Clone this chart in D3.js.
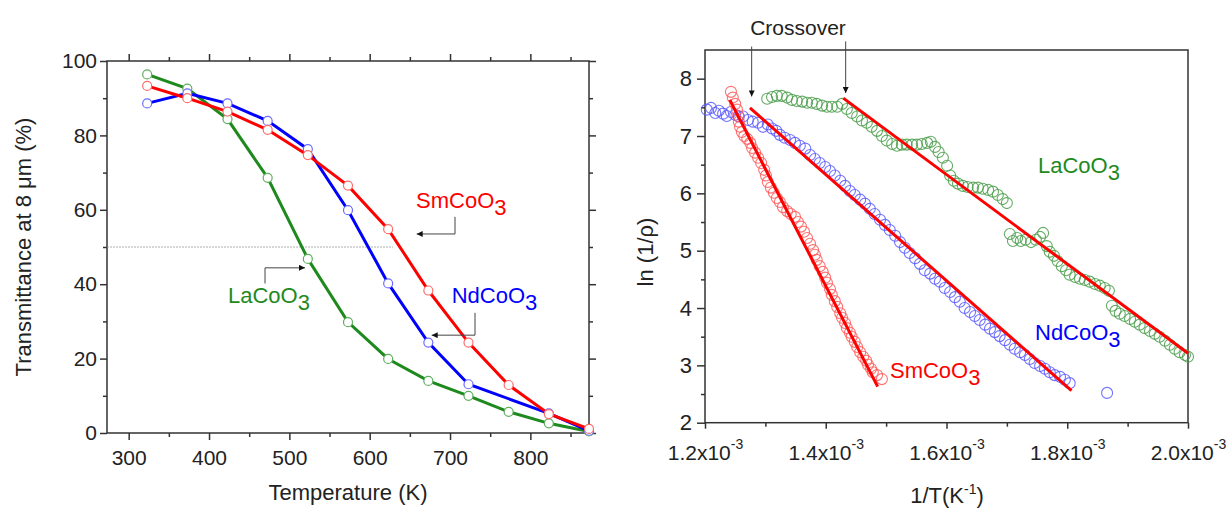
<!DOCTYPE html>
<html><head><meta charset="utf-8">
<script src="https://cdn.jsdelivr.net/npm/d3@7"></script>
<style>
body{margin:0;background:#fff}
svg{display:block}
text{font-family:"Liberation Sans",Arial,Helvetica,sans-serif}
</style>
</head><body>
<svg id="c" width="1229" height="509"></svg>
<script>
// ---------- Left panel data: transmittance at 8 um vs temperature ----------
const temperatureK = [323, 373, 423, 473, 523, 573, 623, 673, 723, 773, 823, 873];
const laTrans = [96.4, 92.6, 84.4, 68.6, 46.8, 29.8, 19.9, 14.0, 10.0, 5.7, 2.6, 0.4];
const smTrans = [93.3, 90.0, 86.4, 81.5, 74.7, 66.5, 54.8, 38.3, 24.3, 12.9, 5.1, 1.1];
const ndTrans = [88.6, 91.3, 88.6, 83.9, 76.3, 59.9, 40.2, 24.3, 13.1, null, 5.3, 0.6];
const leftXTicks = [300, 400, 500, 600, 700, 800];
const leftYTicks = [0, 20, 40, 60, 80, 100];

// ---------- Right panel data: ln(1/rho) vs 1/T (in units of 1e-3 K^-1) ----------
const smInvT = [1.243,1.246,1.250,1.253,1.255,1.256,1.258,1.261,1.265,1.270,1.275,1.278,1.283,1.288,1.293,1.298,1.301,1.304,1.309,1.314,1.319,1.324,1.329,1.336,1.342,1.349,1.354,1.359,1.364,1.369,1.374,1.379,1.382,1.385,1.390,1.395,1.399,1.402,1.407,1.410,1.415,1.419,1.424,1.427,1.432,1.435,1.440,1.443,1.448,1.452,1.457,1.462,1.467,1.470,1.475,1.478,1.485,1.493];
const smLn = [7.77,7.67,7.56,7.46,7.35,7.25,7.16,7.07,7.00,6.95,6.88,6.79,6.71,6.62,6.53,6.41,6.31,6.20,6.10,6.01,5.92,5.85,5.76,5.69,5.64,5.59,5.50,5.42,5.33,5.22,5.12,5.01,4.93,4.84,4.73,4.63,4.53,4.44,4.33,4.23,4.12,4.02,3.91,3.83,3.74,3.65,3.57,3.50,3.41,3.32,3.23,3.15,3.08,3.01,2.94,2.88,2.83,2.76];

const ndInvT = [1.203,1.210,1.217,1.223,1.230,1.236,1.243,1.250,1.256,1.263,1.271,1.279,1.288,1.296,1.304,1.311,1.318,1.324,1.332,1.341,1.349,1.357,1.366,1.374,1.382,1.390,1.399,1.407,1.415,1.424,1.432,1.440,1.448,1.457,1.465,1.473,1.481,1.490,1.498,1.506,1.515,1.523,1.531,1.539,1.548,1.556,1.564,1.573,1.581,1.589,1.597,1.606,1.614,1.622,1.630,1.639,1.647,1.655,1.664,1.672,1.680,1.688,1.697,1.705,1.713,1.722,1.730,1.738,1.746,1.755,1.763,1.771,1.779,1.788,1.796,1.804,1.866];
const ndLn = [7.46,7.49,7.40,7.44,7.39,7.35,7.42,7.37,7.34,7.34,7.28,7.25,7.23,7.16,7.20,7.13,7.09,7.02,6.97,6.93,6.88,6.83,6.78,6.67,6.60,6.53,6.46,6.39,6.31,6.22,6.13,6.04,5.97,5.89,5.82,5.73,5.64,5.54,5.45,5.36,5.26,5.15,5.05,4.96,4.87,4.77,4.66,4.60,4.51,4.46,4.35,4.28,4.19,4.11,4.00,3.93,3.86,3.79,3.71,3.64,3.58,3.51,3.44,3.36,3.29,3.23,3.18,3.11,3.04,2.99,2.94,2.88,2.83,2.80,2.75,2.69,2.52];

const laInvT = [1.303,1.311,1.319,1.327,1.336,1.344,1.352,1.361,1.369,1.377,1.385,1.394,1.402,1.410,1.419,1.427,1.435,1.443,1.452,1.460,1.468,1.476,1.485,1.493,1.501,1.510,1.518,1.526,1.534,1.543,1.551,1.559,1.568,1.574,1.581,1.587,1.594,1.601,1.606,1.612,1.619,1.627,1.635,1.644,1.652,1.660,1.669,1.677,1.685,1.693,1.700,1.705,1.710,1.717,1.723,1.731,1.740,1.748,1.755,1.760,1.766,1.771,1.778,1.784,1.791,1.798,1.804,1.813,1.821,1.829,1.837,1.846,1.854,1.862,1.869,1.874,1.880,1.887,1.895,1.904,1.912,1.920,1.928,1.937,1.945,1.953,1.962,1.970,1.978,1.986,1.995,2.000];
const laLn = [7.65,7.68,7.70,7.70,7.67,7.63,7.61,7.60,7.58,7.58,7.56,7.53,7.51,7.51,7.51,7.56,7.47,7.40,7.34,7.27,7.23,7.16,7.09,7.00,6.92,6.86,6.83,6.85,6.85,6.85,6.85,6.86,6.88,6.90,6.81,6.72,6.62,6.48,6.31,6.22,6.17,6.13,6.11,6.10,6.10,6.08,6.06,6.03,5.97,5.90,5.83,5.29,5.17,5.22,5.17,5.19,5.15,5.19,5.24,5.31,5.08,4.98,4.91,4.82,4.73,4.66,4.58,4.54,4.51,4.49,4.46,4.42,4.39,4.35,4.30,4.04,3.95,3.90,3.86,3.81,3.76,3.71,3.65,3.60,3.55,3.50,3.43,3.36,3.29,3.23,3.18,3.15];

// linear fits (endpoints)
const smFitX = [1.241, 1.486], smFitY = [7.63, 2.63];
const ndFitX = [1.2745, 1.807], ndFitY = [7.49, 2.56];
const laFitX = [1.429, 2.000], laFitY = [7.66, 3.21];

const rightXTicks = [1.2, 1.4, 1.6, 1.8, 2.0];
const rightYTicks = [2, 3, 4, 5, 6, 7, 8];

// ---------- drawing ----------
const svg = d3.select("#c");
const AX = "#333", TXT = "#222";
const RED = "#ff0000", BLUE = "#0000ff", GREEN = "#1e8a1e";

const defs = svg.append("defs");
defs.append("marker").attr("id","ah").attr("viewBox","0 0 10 10")
  .attr("refX",10).attr("refY",5).attr("markerWidth",9).attr("markerHeight",6)
  .attr("markerUnits","userSpaceOnUse").attr("orient","auto")
  .append("path").attr("d","M0,0 L10,5 L0,10 z").attr("fill","#111");

function styleAxis(g, fs){
  g.select(".domain").remove();
  g.selectAll("line").attr("stroke", AX).attr("stroke-width", 1.5);
  g.selectAll("text").attr("fill", TXT).style("font-size", fs + "px");
}
function chem(g, x, y, base, sub, color, fs){
  const t = g.append("text").attr("x", x).attr("y", y).attr("fill", color).style("font-size", fs + "px");
  t.append("tspan").text(base);
  t.append("tspan").attr("dy", 7).text(sub);
}

// ===== Left panel =====
const xL = d3.scaleLinear().domain([273, 873]).range([107, 589]);
const yL = d3.scaleLinear().domain([0, 100]).range([433, 61]);
const gL = svg.append("g");
const xMinorL = leftXTicks.map(d => d + 50);
const yMinorL = leftYTicks.slice(0, -1).map(d => d + 10);

gL.append("g").attr("transform","translate(0,433)")
  .call(d3.axisBottom(xL).tickValues(leftXTicks).tickSize(7).tickPadding(10).tickSizeOuter(0)).call(g=>styleAxis(g,21));
gL.append("g").attr("transform","translate(0,433)")
  .call(d3.axisBottom(xL).tickValues(xMinorL).tickSize(4).tickFormat("").tickSizeOuter(0)).call(g=>styleAxis(g,21));
gL.append("g").attr("transform","translate(0,61)")
  .call(d3.axisTop(xL).tickValues(leftXTicks).tickSize(7).tickFormat("").tickSizeOuter(0)).call(g=>styleAxis(g,21));
gL.append("g").attr("transform","translate(0,61)")
  .call(d3.axisTop(xL).tickValues(xMinorL).tickSize(4).tickFormat("").tickSizeOuter(0)).call(g=>styleAxis(g,21));
gL.append("g").attr("transform","translate(107,0)")
  .call(d3.axisLeft(yL).tickValues(leftYTicks).tickSize(7).tickPadding(3).tickSizeOuter(0)).call(g=>styleAxis(g,21));
gL.append("g").attr("transform","translate(107,0)")
  .call(d3.axisLeft(yL).tickValues(yMinorL).tickSize(4).tickFormat("").tickSizeOuter(0)).call(g=>styleAxis(g,21));
gL.append("g").attr("transform","translate(589,0)")
  .call(d3.axisRight(yL).tickValues(leftYTicks).tickSize(7).tickFormat("").tickSizeOuter(0)).call(g=>styleAxis(g,21));
gL.append("g").attr("transform","translate(589,0)")
  .call(d3.axisRight(yL).tickValues(yMinorL).tickSize(4).tickFormat("").tickSizeOuter(0)).call(g=>styleAxis(g,21));
gL.append("rect").attr("x",107).attr("y",61).attr("width",482).attr("height",372)
  .attr("fill","none").attr("stroke",AX).attr("stroke-width",1.5);

// 50% reference line
gL.append("line").attr("x1", xL(273)).attr("x2", xL(629)).attr("y1", yL(50)).attr("y2", yL(50))
  .attr("stroke","#999").attr("stroke-width",0.8).attr("stroke-dasharray","2,1");

const leftSeries = [
  {vals: laTrans, line: GREEN, mark: "#5fae5f"},
  {vals: ndTrans, line: BLUE, mark: "#6b6bff"},
  {vals: smTrans, line: RED, mark: "#ff6b6b"}
];
const lineL = d3.line().x(d => xL(d[0])).y(d => yL(d[1]));
leftSeries.forEach(s => {
  const pts = temperatureK.map((t,i) => [t, s.vals[i]]).filter(p => p[1] != null);
  gL.append("path").attr("d", lineL(pts)).attr("fill","none").attr("stroke", s.line).attr("stroke-width",3);
});
leftSeries.forEach(s => {
  const pts = temperatureK.map((t,i) => [t, s.vals[i]]).filter(p => p[1] != null);
  gL.selectAll(null).data(pts).enter().append("circle")
    .attr("cx", d => xL(d[0])).attr("cy", d => yL(d[1])).attr("r", 4.5)
    .attr("fill","#fff").attr("stroke", s.mark).attr("stroke-width",1.2);
});

// left annotations
function arrow(g, pts, sx, sy){
  g.append("path").attr("d", d3.line().x(p=>sx(p[0])).y(p=>sy(p[1]))(pts))
    .attr("fill","none").attr("stroke","#444").attr("stroke-width",1).attr("marker-end","url(#ah)");
}
arrow(gL, [[706.2,58.1],[706.2,53.5],[658.5,53.5]], xL, yL);
arrow(gL, [[731.1,32.3],[731.1,26.3],[677.2,26.3]], xL, yL);
arrow(gL, [[469.7,40.2],[469.7,44.4],[519.5,44.4]], xL, yL);
chem(gL, xL(657.7), yL(60.5), "SmCoO", "3", RED, 22);
chem(gL, xL(702.1), yL(34.9), "NdCoO", "3", BLUE, 22);
chem(gL, xL(423.6), yL(34.9), "LaCoO", "3", GREEN, 22);

gL.append("text").attr("transform","translate(31,247) rotate(-90)").attr("text-anchor","middle")
  .attr("fill",TXT).style("font-size","22px").text("Transmittance at 8 \u03bcm (%)");
gL.append("text").attr("x",348).attr("y",500).attr("text-anchor","middle")
  .attr("fill",TXT).style("font-size","22px").text("Temperature (K)");

// ===== Right panel =====
const xR = d3.scaleLinear().domain([1.2, 2.0]).range([705, 1188]);
const yR = d3.scaleLinear().domain([2, 8.5]).range([422.7, 50]);
const gR = svg.append("g");
const xMinorR = [1.3, 1.5, 1.7, 1.9];
const yMinorR = rightYTicks.slice(0, -1).map(d => d + 0.5);

const bx = gR.append("g").attr("transform","translate(0,422.7)")
  .call(d3.axisBottom(xR).tickValues(rightXTicks).tickSize(6).tickPadding(16).tickSizeOuter(0)).call(g=>styleAxis(g,21));
bx.selectAll(".tick text").each(function(d){
  const t = d3.select(this).text(null);
  t.append("tspan").text(d3.format(".1f")(d) + "x10");
  t.append("tspan").attr("dy", -11).style("font-size","14px").text("-3");
});
gR.append("g").attr("transform","translate(0,422.7)")
  .call(d3.axisBottom(xR).tickValues(xMinorR).tickSize(4).tickFormat("").tickSizeOuter(0)).call(g=>styleAxis(g,21));
gR.append("g").attr("transform","translate(705,0)")
  .call(d3.axisLeft(yR).tickValues(rightYTicks).tickFormat(d3.format("d")).tickSize(8).tickPadding(5).tickSizeOuter(0)).call(g=>styleAxis(g,22));
gR.append("g").attr("transform","translate(705,0)")
  .call(d3.axisLeft(yR).tickValues(yMinorR).tickSize(4).tickFormat("").tickSizeOuter(0)).call(g=>styleAxis(g,21));
gR.append("rect").attr("x",705).attr("y",50).attr("width",483).attr("height",372.7)
  .attr("fill","none").attr("stroke",AX).attr("stroke-width",1.5);

const rightSeries = [
  {x: ndInvT, y: ndLn, c: "#5a5aff"},
  {x: smInvT, y: smLn, c: "#ff5a5a"},
  {x: laInvT, y: laLn, c: "#4a9e4a"}
];
rightSeries.forEach(s => {
  gR.selectAll(null).data(s.x.map((v,i)=>[v, s.y[i]])).enter().append("circle")
    .attr("cx", d => xR(d[0])).attr("cy", d => yR(d[1])).attr("r", 5.5)
    .attr("fill","none").attr("stroke", s.c).attr("stroke-width",1.1).attr("stroke-opacity",0.85);
});
[[smFitX,smFitY],[ndFitX,ndFitY],[laFitX,laFitY]].forEach(([fx,fy]) => {
  gR.append("line").attr("x1",xR(fx[0])).attr("y1",yR(fy[0])).attr("x2",xR(fx[1])).attr("y2",yR(fy[1]))
    .attr("stroke",RED).attr("stroke-width",3);
});

// crossover arrows
arrow(gR, [[1.2773,8.56],[1.2773,7.69]], xR, yR);
arrow(gR, [[1.433,8.65],[1.433,7.75]], xR, yR);
gR.append("text").attr("x", xR(1.354)).attr("y", 35).attr("text-anchor","middle")
  .attr("fill",TXT).style("font-size","21px").text("Crossover");

chem(gR, xR(1.7516), yR(6.36), "LaCoO", "3", GREEN, 22);
chem(gR, xR(1.7466), yR(3.44), "NdCoO", "3", BLUE, 22);
chem(gR, xR(1.5064), yR(2.78), "SmCoO", "3", RED, 22);

gR.append("text").attr("transform","translate(653,252) rotate(-90)").attr("text-anchor","middle")
  .attr("fill",TXT).style("font-size","22px").text("ln (1/\u03c1)");
const xt = gR.append("text").attr("x",947).attr("y",503).attr("text-anchor","middle")
  .attr("fill",TXT).style("font-size","22px");
xt.append("tspan").text("1/T(K");
xt.append("tspan").attr("dy",-9).style("font-size","14px").text("-1");
xt.append("tspan").attr("dy",9).text(")");
</script>
</body></html>
